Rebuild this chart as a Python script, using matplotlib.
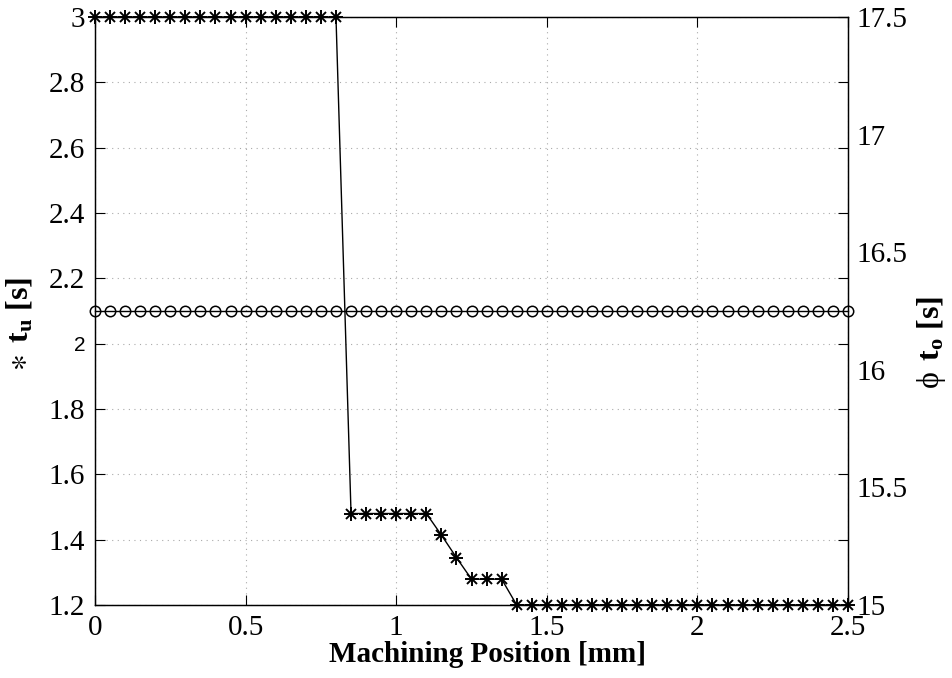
import numpy as np
import matplotlib
matplotlib.use("Agg")
import matplotlib.pyplot as plt

plt.rcParams["font.family"] = ["Liberation Serif", "DejaVu Serif"]
plt.rcParams["mathtext.fontset"] = "custom"
plt.rcParams["mathtext.rm"] = "Liberation Serif"
plt.rcParams["mathtext.bf"] = "Liberation Serif:bold"
plt.rcParams["mathtext.it"] = "Liberation Serif:italic"

# ── data ─────────────────────────────────────────────────────────────────────
position = [round(0.05 * i, 2) for i in range(51)]          # mm
t_u = ([3.0] * 17 + [1.48] * 6 + [1.414, 1.345] +
       [1.279] * 3 + [1.2] * 23)                              # s
t_o = [16.25] * 51                                             # s

left_ticks  = [1.2, 1.4, 1.6, 1.8, 2.0, 2.2, 2.4, 2.6, 2.8, 3.0]
left_labels = ["1.2", "1.4", "1.6", "1.8", "2", "2.2", "2.4", "2.6", "2.8", "3"]
right_ticks  = [15, 15.5, 16, 16.5, 17, 17.5]
right_labels = ["15", "15.5", "16", "16.5", "17", "17.5"]
x_ticks  = [0, 0.5, 1, 1.5, 2, 2.5]
x_labels = ["0", "0.5", "1", "1.5", "2", "2.5"]

# ── figure ───────────────────────────────────────────────────────────────────
fig = plt.figure(figsize=(9.52, 6.78), dpi=100)
ax = fig.add_axes([0.0998, 0.1077, 0.791, 0.8673])
ax2 = ax.twinx()

ax.plot(position, t_u, color="black", lw=1.0, marker="+", ms=10, mew=1.4,
        clip_on=False, zorder=3)
ax.plot(position, t_u, color="black", lw=0, marker="x", ms=7, mew=1.4,
        clip_on=False, zorder=3)
ax2.plot(position, t_o, color="black", lw=1.0, marker="o", ms=7.5,
         mfc="none", mec="black", mew=1.1, clip_on=False)

ax.set_xlim(0, 2.5)
ax.set_ylim(1.2, 3.0)
ax2.set_ylim(15, 17.5)

ax.set_xticks(x_ticks)
ax.set_xticklabels(x_labels, fontsize=21)
ax.set_yticks(left_ticks)
ax.set_yticklabels(left_labels, fontsize=21)
ax2.set_yticks(right_ticks)
ax2.set_yticklabels(right_labels, fontsize=21)

# the "2" label in the original is rendered in a sans font
for lbl in ax.get_yticklabels():
    if lbl.get_text() == "2":
        lbl.set_fontfamily("Liberation Sans")
        lbl.set_fontsize(15)

ax.tick_params(axis="x", direction="in", length=7, width=0.8, pad=7, top=True)
ax.tick_params(axis="y", direction="in", length=7, width=0.8, pad=7,
               right=True, labelright=False)
for t in ax.yaxis.get_major_ticks():
    t.tick2line.set_color("#999999")
ax2.tick_params(axis="y", length=0, pad=6)

ax.grid(True, linestyle=(0, (1, 4)), color="#aaaaaa", lw=0.8)

fig.text(0.5116, 0.0236, "Machining Position [mm]", fontsize=21,
         fontweight="bold", ha="center", va="baseline")
fig.text(20 / 952, 1 - 324 / 678,
         r"$\mathrm{∗}\,$ $\mathbf{t_u}$ [s]",
         fontsize=23, fontweight="bold", rotation=90, ha="center", va="center")
fig.text(931 / 952, 1 - 342 / 678,
         r"$\mathrm{ϕ}\,$ $\mathbf{t_o}$ [s]",
         fontsize=23, fontweight="bold", rotation=90, ha="center", va="center")

for a in (ax, ax2):
    for s in a.spines.values():
        s.set_linewidth(0.9)

fig.savefig("out.png", dpi=100, facecolor="white")
